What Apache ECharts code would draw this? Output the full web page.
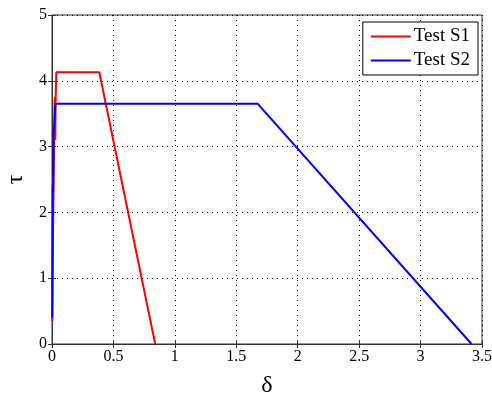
<!DOCTYPE html>
<html>
<head>
<meta charset="utf-8">
<script src="https://cdn.jsdelivr.net/npm/echarts@6/dist/echarts.min.js"></script>
<style>
  html, body { margin: 0; padding: 0; background: #fff; }
  #main { width: 492px; height: 394px; }
</style>
</head>
<body>
<div id="main"></div>
<script>
// test curves: [delta, tau]
var testS1 = [
    [0.003, 0.35], [0.006, 1.05], [0.009, 1.75], [0.013, 2.42],
    [0.018, 3.10], [0.021, 3.70], [0.025, 3.75], [0.027, 3.10],
    [0.030, 3.75], [0.035, 4.13],
    [0.385, 4.13], [0.84, 0]
];
var testS2 = [
    [0.002, 0.40], [0.004, 1.70], [0.006, 2.42], [0.009, 2.30], [0.012, 3.22],
    [0.018, 3.30], [0.027, 3.65],
    [1.675, 3.65], [3.415, 0]
];
var seriesNames = ['Test S1', 'Test S2'];
var seriesColors = ['#ff0000', '#0000ff'];

var serif = 'Liberation Serif';
var myChart = echarts.init(document.getElementById('main'));
var option = {
    backgroundColor: '#fff',
    animation: false,
    grid: {
        left: 52, right: 10, top: 15, bottom: 50,
        outerBoundsMode: 'none',
        containLabel: false,
        show: true, borderColor: '#333', borderWidth: 1
    },
    legend: {
        orient: 'vertical',
        right: 14, top: 22,
        data: seriesNames,
        icon: 'rect',
        itemWidth: 40, itemHeight: 2,
        itemGap: 5,
        padding: [5, 8, 5, 8],
        borderColor: '#000', borderWidth: 1,
        backgroundColor: '#fff',
        textStyle: { fontFamily: serif, fontSize: 19, color: '#000', padding: [0, 0, 0, -2] }
    },
    xAxis: [{
        type: 'value',
        min: 0, max: 3.5, interval: 0.5,
        name: 'δ',
        nameLocation: 'middle',
        nameGap: 30,
        nameTextStyle: { fontFamily: serif, fontSize: 24, color: '#000' },
        axisLine: { show: true, lineStyle: { color: '#333' } },
        axisTick: { inside: true, length: 4, lineStyle: { color: '#333' } },
        axisLabel: { fontFamily: serif, fontSize: 16, color: '#000', margin: 5, showMaxLabel: true },
        splitLine: { show: true, lineStyle: { color: '#000', type: [1, 4] } }
    }, {
        type: 'value', position: 'top',
        min: 0, max: 3.5, interval: 0.5,
        axisLine: { show: false },
        axisTick: { inside: true, length: 4, lineStyle: { color: '#333' } },
        axisLabel: { show: false },
        splitLine: { show: false }
    }],
    yAxis: [{
        type: 'value',
        min: 0, max: 5, interval: 1,
        name: 'τ',
        nameLocation: 'middle',
        nameRotate: 90,
        nameGap: 22,
        nameTextStyle: { fontFamily: serif, fontSize: 24, color: '#000' },
        axisLine: { show: true, lineStyle: { color: '#333' } },
        axisTick: { inside: true, length: 4, lineStyle: { color: '#333' } },
        axisLabel: { fontFamily: serif, fontSize: 16, color: '#000', margin: 5 },
        splitLine: { show: true, lineStyle: { color: '#000', type: [1, 4] } }
    }, {
        type: 'value', position: 'right',
        min: 0, max: 5, interval: 1,
        axisLine: { show: false },
        axisTick: { show: true, inside: true, length: 4, lineStyle: { color: '#333' } },
        axisLabel: { show: false },
        splitLine: { show: false }
    }],
    series: [
        {
            name: seriesNames[0], type: 'line', data: testS1,
            showSymbol: false, symbol: 'none',
            lineStyle: { color: seriesColors[0], width: 2 },
            itemStyle: { color: seriesColors[0] }
        },
        {
            name: seriesNames[1], type: 'line', data: testS2,
            showSymbol: false, symbol: 'none',
            lineStyle: { color: seriesColors[1], width: 2 },
            itemStyle: { color: seriesColors[1] }
        }
    ]
};
myChart.setOption(option);
</script>
</body>
</html>
